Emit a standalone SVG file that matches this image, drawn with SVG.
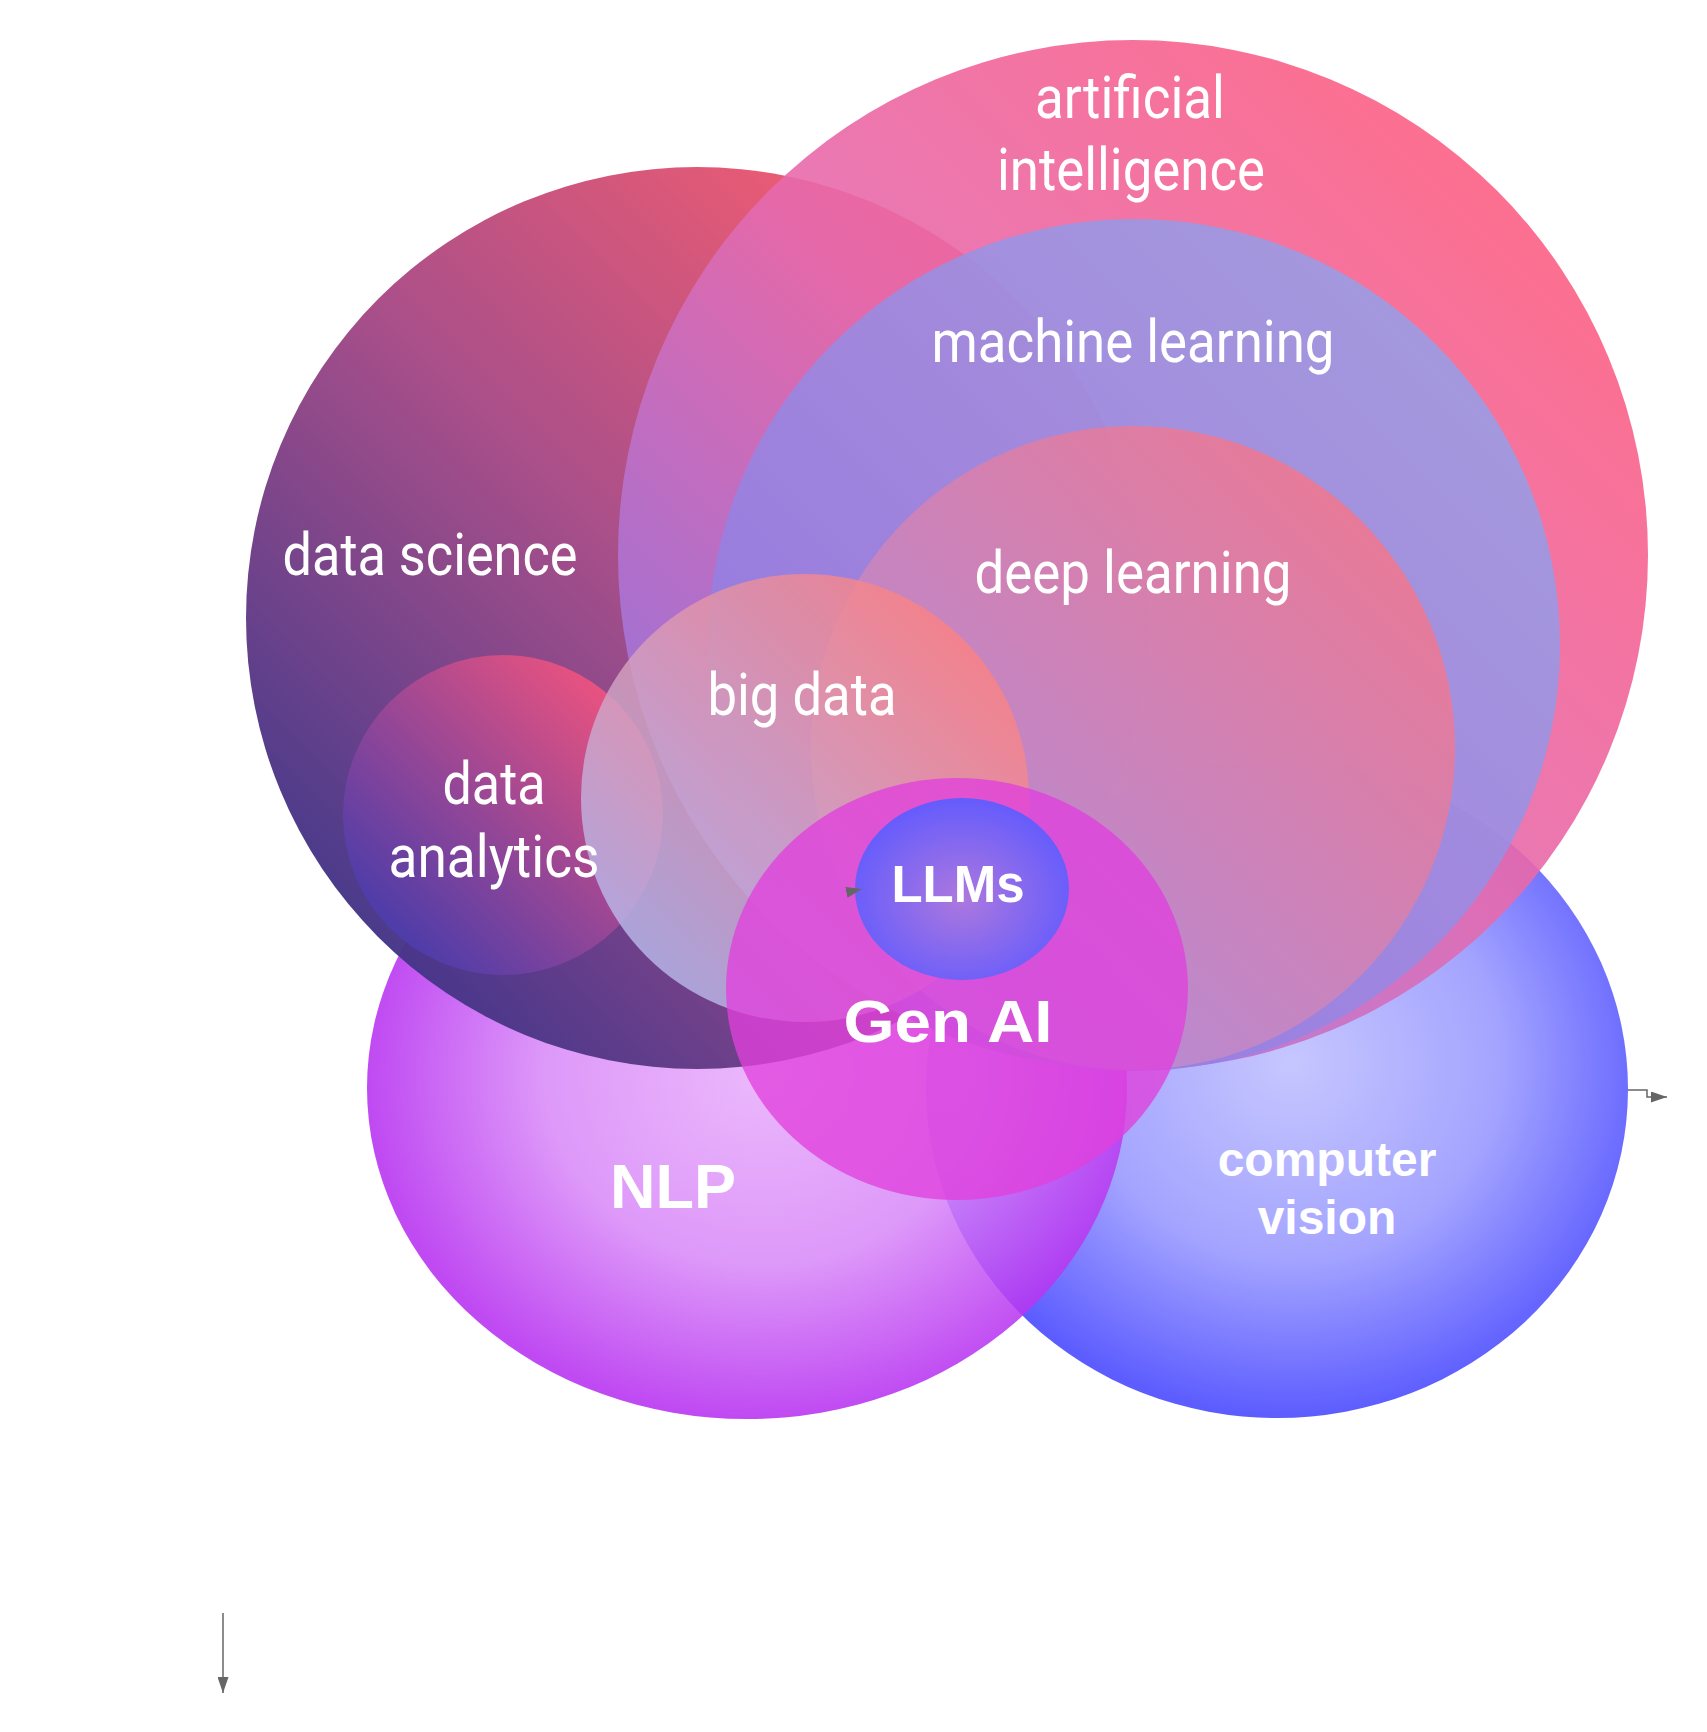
<svg xmlns="http://www.w3.org/2000/svg" width="1707" height="1732" viewBox="0 0 1707 1732">
<defs>
<linearGradient id="gDS" x1="1" y1="0" x2="0" y2="1"><stop offset="0.1" stop-color="#ff5a68"/><stop offset="0.5" stop-color="#a84a86"/><stop offset="1" stop-color="#1c2c88"/></linearGradient>
<linearGradient id="gAI" x1="1" y1="0" x2="0" y2="1"><stop offset="0.1" stop-color="#ff5e7e"/><stop offset="0.5" stop-color="#e66aae"/><stop offset="1" stop-color="#7a7cf6"/></linearGradient>
<linearGradient id="gML" x1="1" y1="0" x2="0" y2="1"><stop offset="0" stop-color="#8eaaf0"/><stop offset="1" stop-color="#9470e0"/></linearGradient>
<linearGradient id="gDL" x1="1" y1="0" x2="0" y2="1"><stop offset="0.1" stop-color="#fc7282"/><stop offset="1" stop-color="#a898ec"/></linearGradient>
<linearGradient id="gBD" x1="1" y1="0" x2="0" y2="1"><stop offset="0.1" stop-color="#ff7e7c"/><stop offset="0.9" stop-color="#b4bcf2"/></linearGradient>
<linearGradient id="gDA" x1="1" y1="0" x2="0" y2="1"><stop offset="0.1" stop-color="#f8547c"/><stop offset="1" stop-color="#2c38b4"/></linearGradient>
<radialGradient id="gNLP" cx="0.52" cy="0.48" r="0.52"><stop offset="0" stop-color="#e8acfb"/><stop offset="0.55" stop-color="#d888f8"/><stop offset="1" stop-color="#b52cf0"/></radialGradient>
<radialGradient id="gCV" cx="0.52" cy="0.46" r="0.54"><stop offset="0" stop-color="#c6c6ff"/><stop offset="0.55" stop-color="#a4a4ff"/><stop offset="1" stop-color="#5c5cff"/></radialGradient>
<radialGradient id="gLLM" cx="0.5" cy="0.55" r="0.55"><stop offset="0" stop-color="#aa7ade"/><stop offset="1" stop-color="#5e5cff"/></radialGradient>
<marker id="arr" markerUnits="userSpaceOnUse" markerWidth="16" markerHeight="11" refX="16" refY="5.5" orient="auto"><path d="M0,0 L16,5.5 L0,11 Z" fill="#666"/></marker>
</defs>
<style>
.cond{font-family:Roboto,"Liberation Sans",sans-serif;font-size:60px;fill:#fff;text-anchor:middle}
.bold{font-family:"Liberation Sans",Arial,sans-serif;font-weight:bold;fill:#fff;text-anchor:middle}
.conn{fill:none;stroke:#666;stroke-width:1.5}
</style>
<rect width="1707" height="1732" fill="#fff"/>
<g id="cv"><ellipse cx="1277" cy="1089" rx="351" ry="329" fill="url(#gCV)"/><text class="bold" x="1327" y="1176" font-size="48">computer</text><text class="bold" x="1327" y="1234" font-size="48">vision</text></g>
<g id="nlp"><ellipse cx="747" cy="1088" rx="380" ry="331" fill="url(#gNLP)" opacity="0.86"/><text class="bold" x="673" y="1208" font-size="63">NLP</text></g>
<g id="data-science"><circle cx="697" cy="618" r="451" fill="url(#gDS)" opacity="0.97"/><text class="cond" x="430" y="575" textLength="295" lengthAdjust="spacingAndGlyphs">data science</text></g>
<g id="ai"><circle cx="1133" cy="555" r="515" fill="url(#gAI)" opacity="0.9"/><text class="cond" x="1130" y="118" textLength="190" lengthAdjust="spacingAndGlyphs">artificial</text><text class="cond" x="1131" y="190" textLength="268" lengthAdjust="spacingAndGlyphs">intelligence</text></g>
<g id="ml"><circle cx="1134" cy="645" r="426" fill="url(#gML)" opacity="0.8"/><text class="cond" x="1133" y="362" textLength="403" lengthAdjust="spacingAndGlyphs">machine learning</text></g>
<g id="dl"><circle cx="1133" cy="748" r="322" fill="url(#gDL)" opacity="0.8"/><text class="cond" x="1133" y="593" textLength="317" lengthAdjust="spacingAndGlyphs">deep learning</text></g>
<g id="data-analytics"><circle cx="503" cy="815" r="160" fill="url(#gDA)" opacity="0.95"/></g>
<g id="big-data"><circle cx="805" cy="798" r="224" fill="url(#gBD)" opacity="0.82"/><text class="cond" x="802" y="715" textLength="189" lengthAdjust="spacingAndGlyphs">big data</text></g>
<g id="data-analytics-label"><text class="cond" x="494" y="804" textLength="103" lengthAdjust="spacingAndGlyphs">data</text><text class="cond" x="494" y="877" textLength="211" lengthAdjust="spacingAndGlyphs">analytics</text></g>
<g id="gen-ai"><ellipse cx="957" cy="989" rx="231" ry="211" fill="#e040dc" opacity="0.78"/><text class="bold" x="948" y="1042" font-size="60" textLength="209" lengthAdjust="spacingAndGlyphs">Gen AI</text></g>
<g id="llms"><ellipse cx="962" cy="889" rx="107" ry="91" fill="url(#gLLM)" opacity="0.95"/><text class="bold" x="958" y="902" font-size="51">LLMs</text></g>
<g id="connectors">
<path class="conn" d="M1628,1090 H1647 V1097 H1667" marker-end="url(#arr)"/>
<path class="conn" d="M223,1613 V1693" marker-end="url(#arr)"/>
<path d="M848,892 L862,889" stroke="none" fill="none" marker-end="url(#arr)"/>
</g>
</svg>
